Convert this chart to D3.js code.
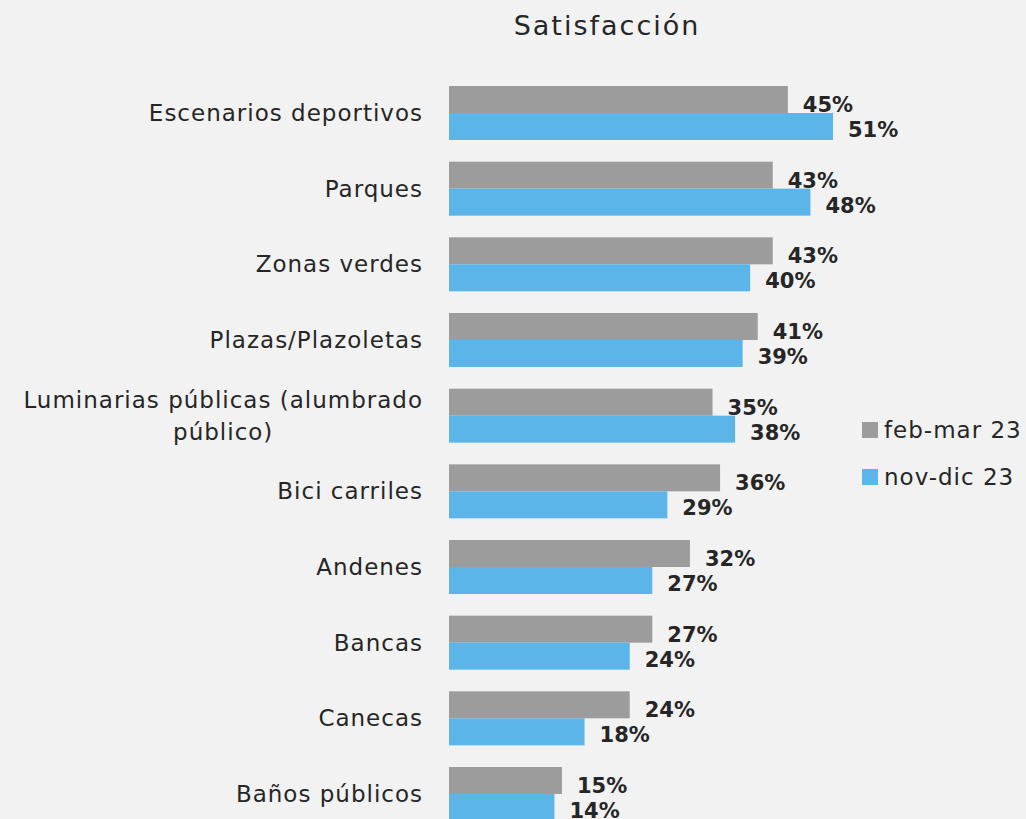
<!DOCTYPE html>
<html>
<head>
<meta charset="utf-8">
<script src="https://cdn.jsdelivr.net/npm/d3@7"></script>
<style>
  body { margin: 0; background: #f2f2f2; }
  svg { display: block; font-family: "Century Gothic", "DejaVu Sans", sans-serif; }
</style>
</head>
<body>
<div id="container"></div>
<script>
/* DATA */
const categories = ["Escenarios deportivos", "Parques", "Zonas verdes", "Plazas/Plazoletas",
  "Luminarias públicas (alumbrado público)", "Bici carriles", "Andenes", "Bancas", "Canecas", "Baños públicos"];
const series = ["feb-mar 23", "nov-dic 23"];
const febMar = [45, 43, 43, 41, 35, 36, 32, 27, 24, 15];
const novDic = [51, 48, 40, 39, 38, 29, 27, 24, 18, 14];
const colors = ["#9c9c9c", "#5bb5e8"];

/* CONSTANTS */
const width = 1026;
const height = 819;
const labelRight = 423;

const svg = d3.select("#container")
  .append("svg")
  .attr("width", width)
  .attr("height", height)

svg.append("rect").attr("width", width).attr("height", height).attr("fill", "#f2f2f2")

/* SCALES */
const xScale = d3.scaleLinear()
  .domain([0, 51])
  .range([449, 833])

const yScale = d3.scaleBand()
  .domain(categories)
  .range([86, 821])
  .paddingInner(0.2864)
  .paddingOuter(0)

const subScale = d3.scaleBand()
  .domain(series)
  .range([0, yScale.bandwidth()])

const color = d3.scaleOrdinal().domain(series).range(colors)

// long table for the bars
const rows = [];
categories.forEach((c, i) => {
  rows.push({ cat: c, s: series[0], v: febMar[i] })
  rows.push({ cat: c, s: series[1], v: novDic[i] })
})

/* TITLE */
svg.append("text")
  .attr("x", 607)
  .attr("y", 35)
  .attr("text-anchor", "middle")
  .attr("font-size", 27)
  .attr("letter-spacing", 2)
  .attr("fill", "#262626")
  .text("Satisfacción")

/* BARS */
svg.selectAll("rect.bar")
  .data(rows)
  .join("rect")
  .attr("class", "bar")
  .attr("x", xScale(0))
  .attr("y", d => yScale(d.cat) + subScale(d.s))
  .attr("width", d => xScale(d.v) - xScale(0))
  .attr("height", subScale.bandwidth())
  .attr("fill", d => color(d.s))

/* VALUE LABELS */
svg.selectAll("text.val")
  .data(rows)
  .join("text")
  .attr("class", "val")
  .attr("x", d => xScale(d.v) + 15)
  .attr("y", d => yScale(d.cat) + subScale(d.s) + subScale.bandwidth() - (d.s === series[0] ? 1 : 3))
  .attr("font-size", 21)
  .attr("font-weight", "bold")
  .attr("fill", "#262626")
  .text(d => d.v + "%")

/* CATEGORY LABELS */
const catLines = c => c === categories[4] ? ["Luminarias públicas (alumbrado", "público)"] : [c];
categories.forEach(c => {
  const lines = catLines(c);
  const mid = yScale(c) + yScale.bandwidth() / 2;
  const t = svg.append("text")
    .attr("font-size", 23)
    .attr("letter-spacing", 1)
    .attr("fill", "#262626")
  if (lines.length === 1) {
    t.attr("x", labelRight).attr("y", mid + 8).attr("text-anchor", "end").text(c)
  } else {
    t.attr("text-anchor", "middle")
    const first = t.append("tspan").attr("y", mid - 8).text(lines[0])
    const w = first.node().getComputedTextLength()
    const cx = labelRight - w / 2
    first.attr("x", cx)
    t.append("tspan").attr("x", cx).attr("y", mid + 24).text(lines[1])
  }
})

/* LEGEND */
const legend = svg.selectAll("g.legend")
  .data(series)
  .join("g")
  .attr("class", "legend")
  .attr("transform", (d, i) => `translate(862, ${422 + i * 47})`)

legend.append("rect")
  .attr("width", 16)
  .attr("height", 16)
  .attr("fill", d => color(d))

legend.append("text")
  .attr("x", 22)
  .attr("y", 16)
  .attr("font-size", 23)
  .attr("letter-spacing", 1)
  .attr("fill", "#262626")
  .text(d => d)
</script>
</body>
</html>
